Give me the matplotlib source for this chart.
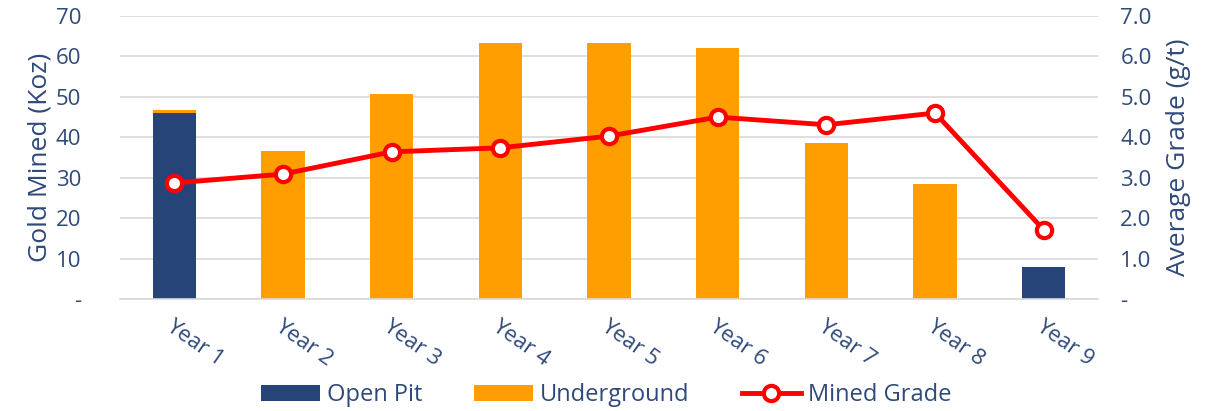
import numpy as np
import matplotlib.pyplot as plt

years = ['Year 1', 'Year 2', 'Year 3', 'Year 4', 'Year 5', 'Year 6', 'Year 7', 'Year 8', 'Year 9']
open_pit = [46.0, 0, 0, 0, 0, 0, 0, 0, 7.9]
underground = [0.7, 36.7, 50.8, 63.4, 63.4, 62.1, 38.7, 28.5, 0]
grade = [2.87, 3.09, 3.64, 3.74, 4.03, 4.50, 4.31, 4.60, 1.71]

navy = '#264478'
orange = '#FF9E00'
txt = '#2F4A7A'

plt.rcParams['font.family'] = ['Open Sans', 'DejaVu Sans']

fig = plt.figure(figsize=(12.12, 4.11), dpi=100)
ax = fig.add_axes([0.099, 0.2725, 0.807, 0.6885])
x = np.arange(len(years))

ax.bar(x, open_pit, width=0.4, color=navy, label='Open Pit', zorder=2)
ax.bar(x, underground, width=0.4, bottom=open_pit, color=orange, label='Underground', zorder=2)

ax.set_xlim(-0.5, len(years) - 0.5)
ax.set_ylim(0, 70)
ax.set_yticks(range(0, 71, 10))
ax.set_yticklabels(['-'] + [str(v) for v in range(10, 71, 10)])
ax.yaxis.grid(True, color='#D9D9D9', linewidth=1.2, zorder=0)
ax.set_axisbelow(True)
for s in ['top', 'right', 'left']:
    ax.spines[s].set_visible(False)
ax.spines['bottom'].set_color('#D9D9D9')
ax.spines['bottom'].set_linewidth(1.2)
ax.tick_params(axis='both', length=0, colors=txt, labelsize=16)
ax.set_xticks(x)
ax.set_xticklabels(years, rotation=-35, ha='left', rotation_mode='anchor')
for lab in ax.get_xticklabels():
    lab.set_color(txt)
ax.tick_params(axis='x', pad=12)
ax.tick_params(axis='y', pad=28)
ax.set_ylabel('Gold Mined (Koz)', color=txt, fontsize=19, labelpad=2)

ax2 = ax.twinx()
ax2.plot(x, grade, color='#FF0000', linewidth=3.5, marker='o', markersize=11,
         markerfacecolor='white', markeredgecolor='#FF0000', markeredgewidth=3,
         label='Mined Grade', zorder=3)
ax2.set_ylim(0, 7)
ax2.set_yticks(np.arange(0, 7.1, 1))
ax2.set_yticklabels(['-'] + ['%.1f' % v for v in np.arange(1, 7.1, 1)])
for s in ['top', 'right', 'left', 'bottom']:
    ax2.spines[s].set_visible(False)
ax2.tick_params(axis='y', length=0, colors=txt, labelsize=16, pad=16)
ax2.set_ylabel('Average Grade (g/t)', color=txt, fontsize=19, labelpad=10)

h1, l1 = ax.get_legend_handles_labels()
h2, l2 = ax2.get_legend_handles_labels()
fig.legend(h1 + h2, l1 + l2, loc='center', bbox_to_anchor=(0.5, 0.038), ncol=3,
           frameon=False, fontsize=17, labelcolor=txt, handlelength=2.5,
           handletextpad=0.3, columnspacing=2.2)

fig.savefig('out.png', dpi=100)
